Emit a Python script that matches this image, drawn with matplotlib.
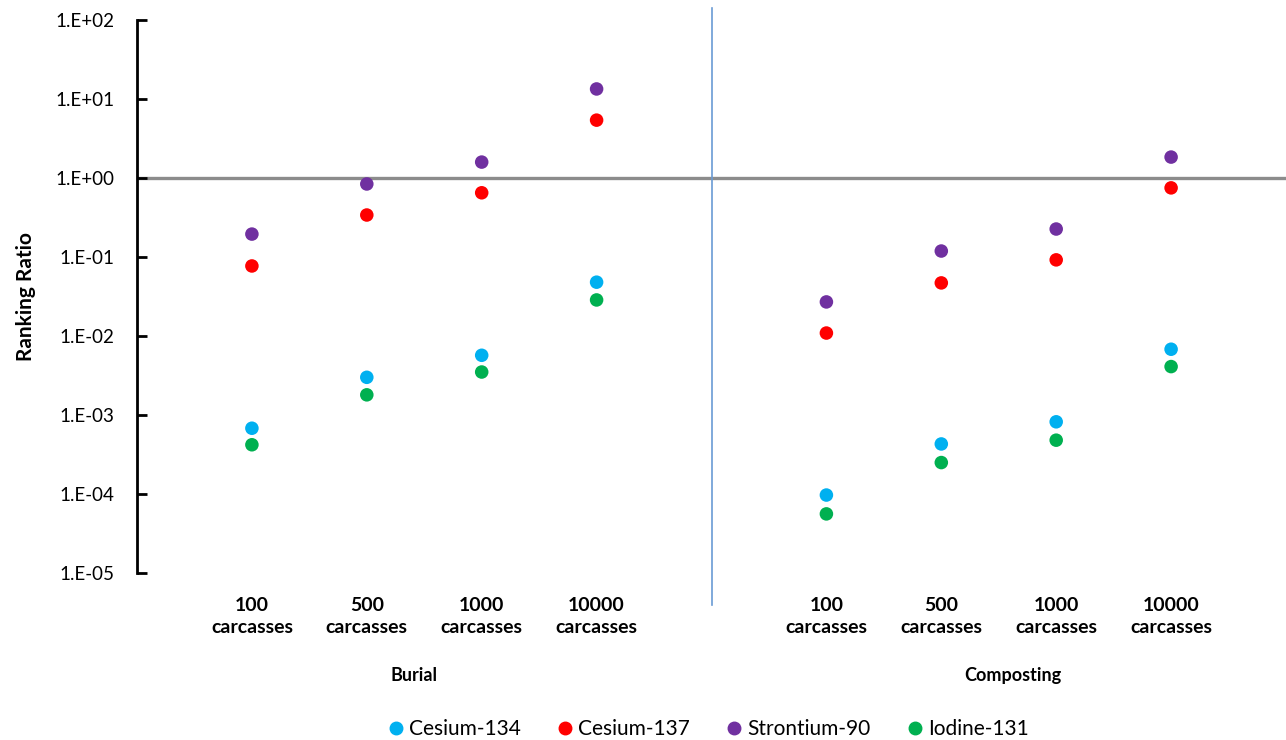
import matplotlib
matplotlib.use("Agg")
from matplotlib import pyplot as plt
from matplotlib.lines import Line2D
import matplotlib.transforms as mtransforms

plt.rcParams['font.family'] = ['Lato', 'DejaVu Sans']

# categories (two groups with an empty slot between them)
groups = ["Burial", "Composting"]
sizes = ["100", "500", "1000", "10000"]
x_pos = [1, 2, 3, 4, 6, 7, 8, 9]
tick_labels = [f"{s}\ncarcasses" for s in sizes] * 2

# ranking ratios: Burial (4 values) followed by Composting (4 values)
cesium_134 = [6.8e-4, 3.0e-3, 5.7e-3, 4.8e-2, 9.7e-5, 4.3e-4, 8.2e-4, 6.8e-3]
cesium_137 = [7.7e-2, 3.4e-1, 6.5e-1, 5.4, 1.09e-2, 4.7e-2, 9.2e-2, 7.5e-1]
strontium_90 = [1.95e-1, 8.4e-1, 1.59, 13.4, 2.7e-2, 1.19e-1, 2.26e-1, 1.84]
iodine_131 = [4.2e-4, 1.8e-3, 3.5e-3, 2.86e-2, 5.6e-5, 2.5e-4, 4.8e-4, 4.1e-3]

series = [
    ("Cesium-134", cesium_134, "#00B0F0"),
    ("Cesium-137", cesium_137, "#FF0000"),
    ("Strontium-90", strontium_90, "#7030A0"),
    ("Iodine-131", iodine_131, "#00B050"),
]

fig = plt.figure(figsize=(12.86, 7.40), dpi=100)
ax = fig.add_axes([137 / 1286, 167 / 740, 1 - 137 / 1286, 553 / 740])

ax.set_yscale("log")
ax.set_ylim(1e-5, 1e2)
ax.set_xlim(0, 10)

# reference line at ratio = 1
ax.axhline(1, color="#8C8C8C", lw=2.4, zorder=1)
# separator between the two methods
ax.axvline(5, ymin=-0.058, ymax=1.022, color="#6A9BD4", lw=1.2, clip_on=False, zorder=1)

handles = []
for name, vals, col in series:
    ax.scatter(x_pos, vals, s=95, color=col, edgecolors="none", zorder=3)
    handles.append(Line2D([], [], marker="o", ls="", color=col, markersize=9, label=name))

ax.set_yticks([10.0 ** k for k in range(-5, 3)])
ax.set_yticklabels([f"1.E{k:+03d}" for k in range(-5, 3)])
ax.yaxis.set_minor_locator(matplotlib.ticker.NullLocator())
ax.tick_params(axis="y", direction="in", length=7, width=2, labelsize=13.5, pad=16)

ax.set_xticks(x_pos)
ax.set_xticklabels(tick_labels, fontsize=14, fontweight="bold", linespacing=1.4)
ax.tick_params(axis="x", length=0, pad=17)

for side in ["top", "right", "bottom"]:
    ax.spines[side].set_visible(False)
ax.spines["left"].set_linewidth(2)

ax.set_ylabel("Ranking Ratio", fontsize=15, fontweight="bold")
ax.yaxis.set_label_coords(-0.088, 0.5)

trans = mtransforms.blended_transform_factory(ax.transData, ax.transAxes)
ax.text(2.41, -0.186, groups[0], transform=trans, ha="center", va="center",
        fontsize=13, fontweight="bold")
ax.text(7.62, -0.186, groups[1], transform=trans, ha="center", va="center",
        fontsize=13, fontweight="bold")

fig.legend(handles=handles, loc="lower center", bbox_to_anchor=(0.549, -0.024), ncol=4,
           frameon=False, fontsize=15, handletextpad=0.05, columnspacing=1.5,
           handlelength=1.2)

fig.savefig("out.png", dpi=100)
